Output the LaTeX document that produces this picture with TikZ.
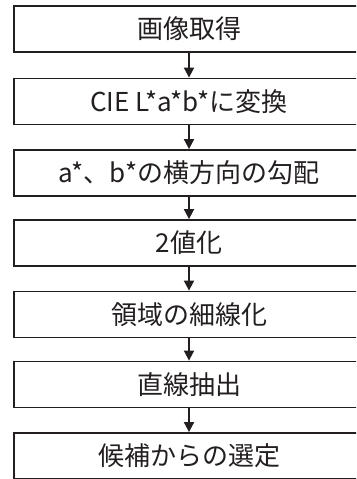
\documentclass[tikz,border=0pt]{standalone}
\usepackage{fontspec}
\setmainfont{Noto Sans CJK JP}
\usetikzlibrary{arrows.meta}
\definecolor{ink}{HTML}{231F20}
\begin{document}
\begin{tikzpicture}[x=1pt,y=1pt,
  stepbox/.style={draw=ink,line width=1.8pt,minimum width=350pt,minimum height=46pt,inner sep=0pt,
    text=ink,font=\fontsize{26}{30}\selectfont},
  conn/.style={draw=ink,line width=1.8pt,-{Triangle[length=10pt,width=10pt]}}]
\useasboundingbox (0,0) rectangle (356,479);
\clip (0,0) rectangle (356,479);
\node[stepbox] (b1) at (189,479-29) {画像取得};
\node[stepbox] (b2) at (189,479-101.5) {CIE L*a*b*に変換};
\node[stepbox] (b3) at (189,479-173) {a*、b*の横方向の勾配};
\node[stepbox] (b4) at (189,479-243) {2値化};
\node[stepbox] (b5) at (189,479-314.5) {領域の細線化};
\node[stepbox] (b6) at (189,479-384.5) {直線抽出};
\node[stepbox] (b7) at (189,479-456) {候補からの選定};
\foreach \a/\b in {b1/b2,b2/b3,b3/b4,b4/b5,b5/b6,b6/b7}
  \draw[conn] (\a.south) -- (\b.north);
\end{tikzpicture}
\end{document}
